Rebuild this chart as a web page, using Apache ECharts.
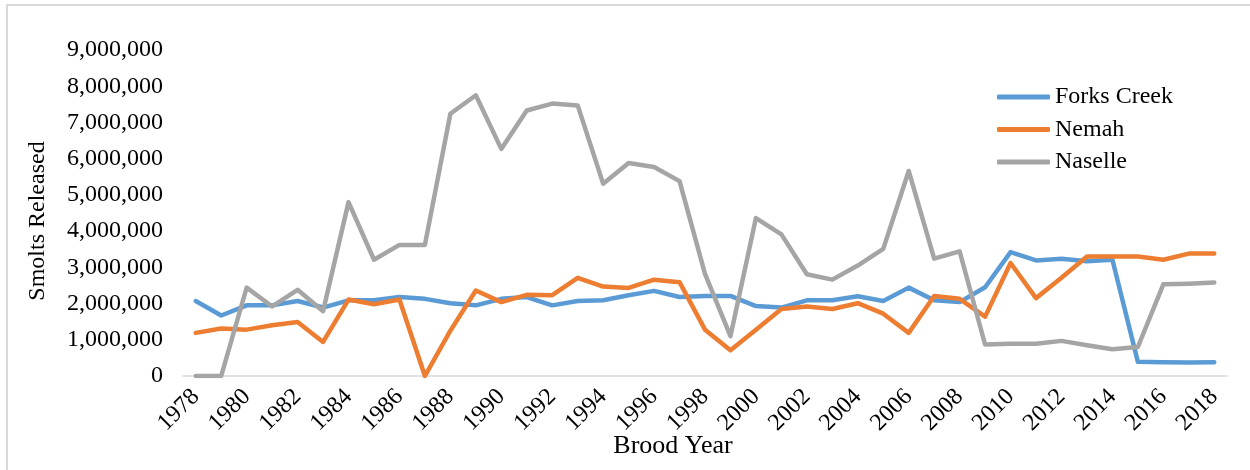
<!DOCTYPE html>
<html>
<head>
<meta charset="utf-8">
<script src="https://cdn.jsdelivr.net/npm/echarts@6/dist/echarts.min.js"></script>
<style>
  html, body { margin: 0; padding: 0; background: #fff; }
  #smolt_chart { width: 1250px; height: 470px; }
</style>
</head>
<body>
<div id="smolt_chart"></div>
<script>
// brood years and smolts released per hatchery
var years = []
for (var y = 1978; y <= 2018; y++) years.push(String(y))

var forksCreek = [
  2070000, 1670000, 1950000, 1950000, 2070000, 1890000, 2090000, 2090000, 2180000, 2130000, 2010000,
  1950000, 2130000, 2180000, 1950000, 2070000, 2090000, 2230000, 2350000, 2180000, 2210000, 2210000,
  1930000, 1890000, 2090000, 2090000, 2200000, 2070000, 2440000, 2090000, 2040000, 2450000,
  3420000, 3190000, 3240000, 3170000, 3210000, 390000, 380000, 370000, 380000
]
var nemah = [
  1190000, 1310000, 1280000, 1400000, 1490000, 940000, 2110000, 1980000, 2110000, 0, 1250000,
  2360000, 2040000, 2240000, 2230000, 2710000, 2470000, 2430000, 2660000, 2590000, 1280000, 710000,
  1280000, 1850000, 1920000, 1850000, 2010000, 1720000, 1190000, 2210000, 2130000, 1640000,
  3120000, 2150000, 2710000, 3300000, 3300000, 3300000, 3210000, 3380000, 3380000
]
var naselle = [
  0, 0, 2440000, 1920000, 2380000, 1790000, 4800000, 3210000, 3620000, 3620000, 7240000,
  7750000, 6270000, 7330000, 7520000, 7470000, 5310000, 5880000, 5770000, 5380000, 2820000, 1100000,
  4360000, 3910000, 2810000, 2660000, 3050000, 3510000, 5660000, 3240000, 3440000, 870000,
  890000, 890000, 970000, 850000, 740000, 800000, 2530000, 2550000, 2580000
]

var font = 'Liberation Serif, Times New Roman, serif'

var smolt_chart = echarts.init(document.getElementById('smolt_chart'))

function lineSeries(name, data, color) {
  return {
    name: name,
    type: 'line',
    data: data,
    symbol: 'none',
    lineStyle: { width: 4.5, color: color, cap: 'round', join: 'round' },
    itemStyle: { color: color },
  }
}

option = {
  animation: false,
  textStyle: { fontFamily: font, color: '#000' },
  grid: { left: 183, right: 23, top: 50, bottom: 94 },
  legend: {
    orient: 'vertical',
    left: 992,
    top: 80,
    icon: 'roundRect',
    itemWidth: 53,
    itemHeight: 5,
    itemGap: 8.5,
    textStyle: { fontFamily: font, fontSize: 24, color: '#000', lineHeight: 24 },
    data: ['Forks Creek', 'Nemah', 'Naselle'],
  },
  xAxis: {
    type: 'category',
    data: years,
    boundaryGap: true,
    axisLine: { lineStyle: { color: '#D9D9D9', width: 1.5 } },
    axisTick: { show: false },
    axisLabel: {
      interval: 1,
      rotate: 45,
      margin: 17,
      fontFamily: font,
      fontSize: 24,
      color: '#000',
    },
  },
  yAxis: {
    type: 'value',
    min: 0,
    max: 9000000,
    interval: 1000000,
    axisLine: { show: false },
    axisTick: { show: false },
    splitLine: { show: false },
    axisLabel: {
      margin: 20,
      fontFamily: font,
      fontSize: 24,
      color: '#000',
      formatter: function (v) { return v.toLocaleString('en-US') },
    },
  },
  graphic: [
    {
      type: 'rect',
      shape: { x: 7, y: 5, width: 1300, height: 500 },
      style: { fill: 'none', stroke: '#D9D9D9', lineWidth: 2 },
      silent: true,
    },
    {
      type: 'text',
      x: 673,
      y: 446,
      style: {
        text: 'Brood Year',
        font: '26px ' + font,
        fill: '#000',
        textAlign: 'center',
        textVerticalAlign: 'middle',
      },
    },
    {
      type: 'text',
      x: 38,
      y: 221,
      rotation: Math.PI / 2,
      style: {
        text: 'Smolts Released',
        font: '24px ' + font,
        fill: '#000',
        textAlign: 'center',
        textVerticalAlign: 'middle',
      },
    },
  ],
  series: [
    lineSeries('Forks Creek', forksCreek, '#5B9BD5'),
    lineSeries('Nemah', nemah, '#ED7D31'),
    lineSeries('Naselle', naselle, '#A5A5A5'),
  ],
}
smolt_chart.setOption(option)

window.addEventListener('resize', function () {
  smolt_chart.resize()
})
</script>
</body>
</html>
